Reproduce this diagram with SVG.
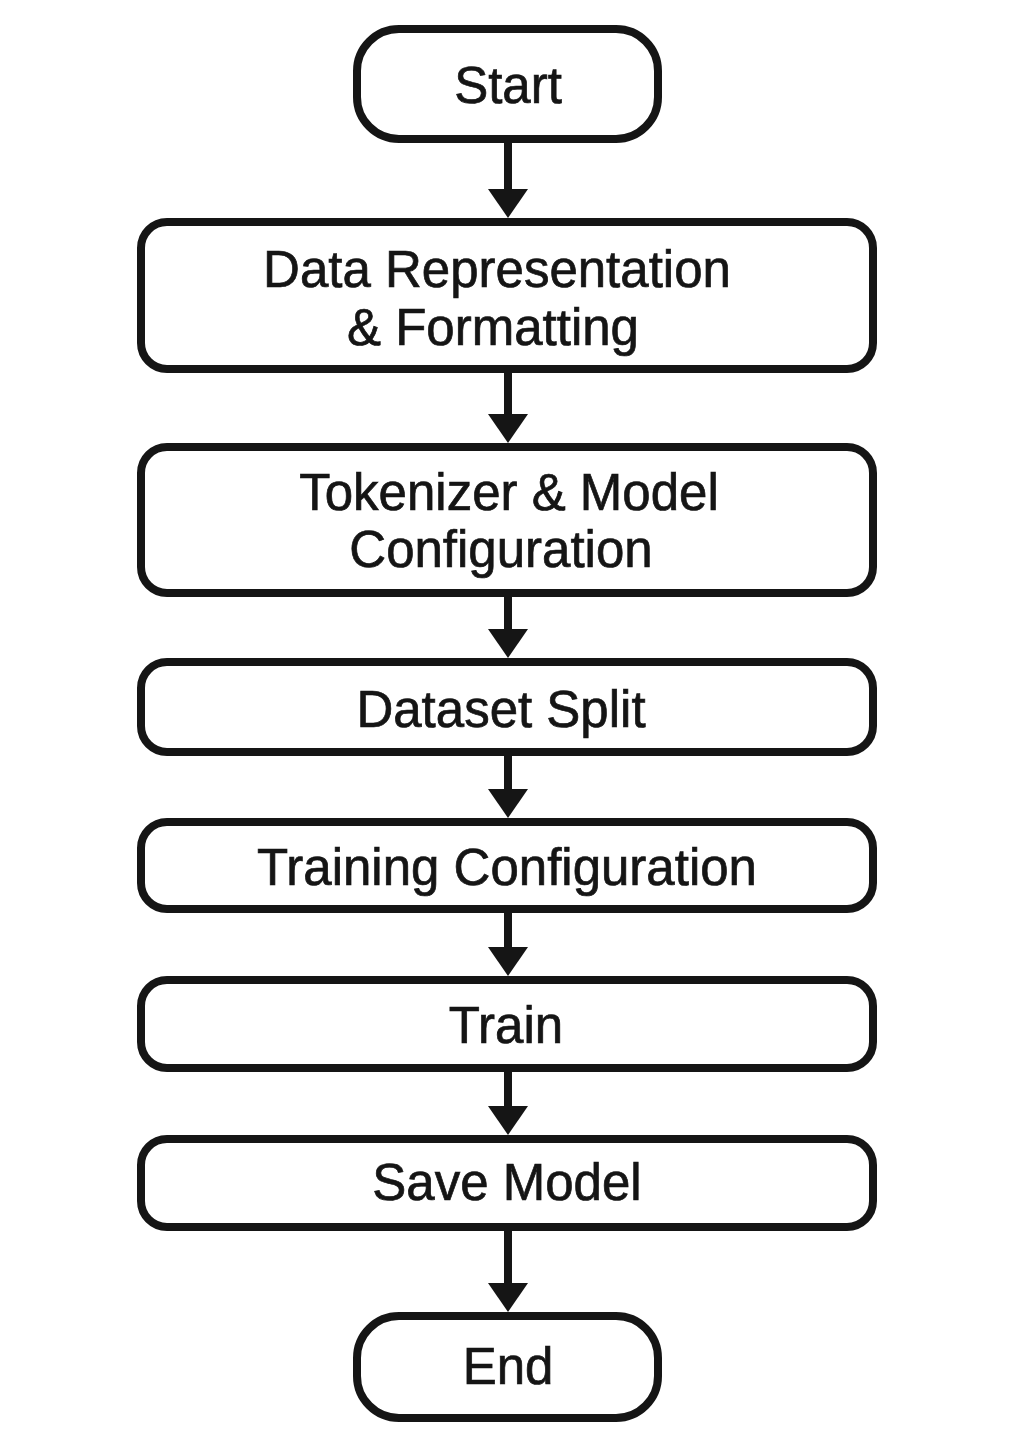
<svg xmlns="http://www.w3.org/2000/svg" width="1017" height="1445" viewBox="0 0 1017 1445">
<style>
.box{fill:#fff;stroke:#151515;stroke-width:8}
.lbl{font-family:"Liberation Sans",Arial,sans-serif;font-size:51px;fill:#151515;stroke:#151515;stroke-width:0.7;text-anchor:middle}
.shaft{stroke:#151515;stroke-width:8;fill:none}
.head{fill:#151515}
</style>
<rect width="1017" height="1445" fill="#fff"/>
<g id="connectors">
<line class="shaft" x1="508" y1="139" x2="508" y2="192"/>
<polygon class="head" points="488,189 528,189 508,218"/>
<line class="shaft" x1="508" y1="369" x2="508" y2="417"/>
<polygon class="head" points="488,414 528,414 508,443"/>
<line class="shaft" x1="508" y1="593" x2="508" y2="632"/>
<polygon class="head" points="488,629 528,629 508,658"/>
<line class="shaft" x1="508" y1="752" x2="508" y2="792"/>
<polygon class="head" points="488,789 528,789 508,818"/>
<line class="shaft" x1="508" y1="909" x2="508" y2="950"/>
<polygon class="head" points="488,947 528,947 508,976"/>
<line class="shaft" x1="508" y1="1068" x2="508" y2="1109"/>
<polygon class="head" points="488,1106 528,1106 508,1135"/>
<line class="shaft" x1="508" y1="1227" x2="508" y2="1286"/>
<polygon class="head" points="488,1283 528,1283 508,1312"/>
</g>
<g id="start">
<rect class="box" x="357" y="29" width="301" height="110" rx="42"/>
<text class="lbl" x="508" y="103">Start</text>
</g>
<g id="data-representation">
<rect class="box" x="141" y="222" width="732" height="147" rx="26"/>
<text class="lbl" x="497" y="287">Data Representation</text>
<text class="lbl" x="493" y="345">&amp; Formatting</text>
</g>
<g id="tokenizer">
<rect class="box" x="141" y="447" width="732" height="146" rx="26"/>
<text class="lbl" x="509" y="510">Tokenizer &amp; Model</text>
<text class="lbl" x="501" y="567">Configuration</text>
</g>
<g id="dataset-split">
<rect class="box" x="141" y="662" width="732" height="90" rx="26"/>
<text class="lbl" x="501" y="727">Dataset Split</text>
</g>
<g id="training-configuration">
<rect class="box" x="141" y="822" width="732" height="87" rx="26"/>
<text class="lbl" x="507" y="885">Training Configuration</text>
</g>
<g id="train">
<rect class="box" x="141" y="980" width="732" height="88" rx="26"/>
<text class="lbl" x="506" y="1043">Train</text>
</g>
<g id="save-model">
<rect class="box" x="141" y="1139" width="732" height="88" rx="26"/>
<text class="lbl" x="507" y="1200">Save Model</text>
</g>
<g id="end">
<rect class="box" x="357" y="1316" width="301" height="102" rx="42"/>
<text class="lbl" x="508" y="1384">End</text>
</g>
</svg>
